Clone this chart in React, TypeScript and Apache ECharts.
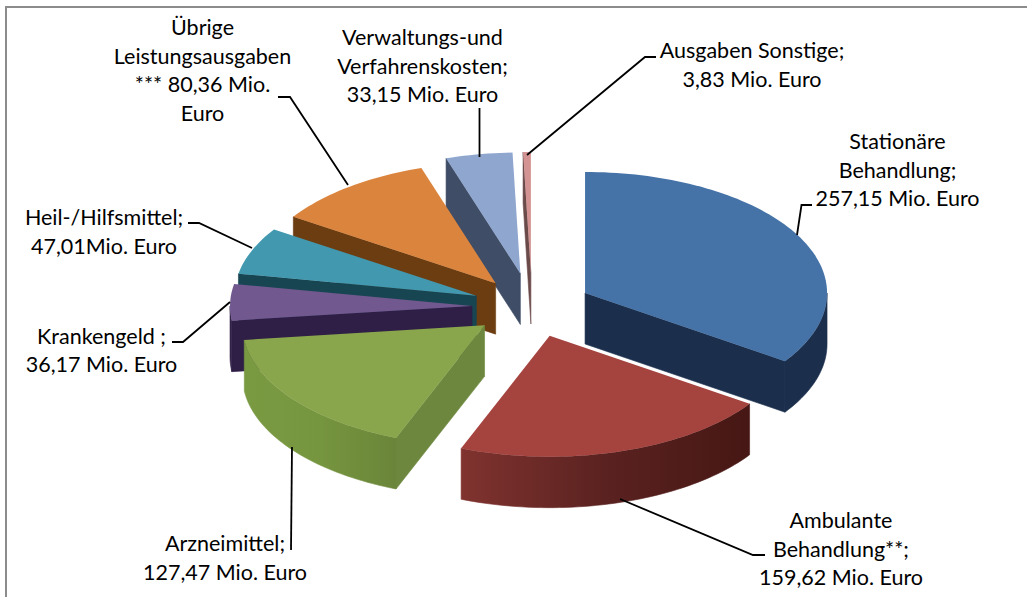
import React, { useEffect, useRef } from "react";
import * as echarts from "echarts";

const categories = [
  "Stationäre Behandlung",
  "Ambulante Behandlung**",
  "Arzneimittel",
  "Krankengeld",
  "Heil-/Hilfsmittel",
  "Übrige Leistungsausgaben ***",
  "Verwaltungs-und Verfahrenskosten",
  "Ausgaben Sonstige",
];
const values = [257.15, 159.62, 127.47, 36.17, 47.01, 80.36, 33.15, 3.83];
const topColors = ["#4572a7", "#a5433f", "#8aa64c", "#71588f", "#4198af", "#db843d", "#8fa6cf", "#d29392"];
const sideColors = ["#1b2f4d", "#7f3230", "#6d883e", "#2f1f46", "#174552", "#6c3d11", "#3f4d66", "#6b4a4a"];
const arcLight = ["#1b2f4d", "#80332f", "#7a9a42", "#2f1f46", "#174552", "#6c3d11", "#3f4d66", "#6b4a4a"];
const arcMid = ["#1b2f4d", "#5a2220", "#76953f", "#2f1f46", "#174552", "#6c3d11", "#3f4d66", "#6b4a4a"];
const arcDark = ["#1b2f4d", "#461714", "#6a8539", "#2f1f46", "#174552", "#6c3d11", "#3f4d66", "#6b4a4a"];
const explode = [60, 60, 60, 60, 60, 60, 68, 68];

const labels = [
  "Stationäre\nBehandlung;\n257,15 Mio. Euro",
  "Ambulante\nBehandlung**;\n159,62 Mio. Euro",
  "Arzneimittel;\n127,47 Mio. Euro",
  "Krankengeld ;\n36,17 Mio. Euro",
  "Heil-/Hilfsmittel;\n47,01Mio. Euro",
  "Übrige\nLeistungsausgaben\n*** 80,36 Mio.\nEuro",
  "Verwaltungs-und\nVerfahrenskosten;\n33,15 Mio. Euro",
  "Ausgaben Sonstige;\n3,83 Mio. Euro",
];
const labelAnchors = [
  [897.5, 169.5], [841, 548.5], [225, 557.5], [101.5, 350], [104, 231.5], [202.5, 70], [422.5, 65.5], [752, 64.5],
];
const leaders = [
  [[797, 235], [801.5, 205], [812, 205]],
  [[620, 499], [753, 555], [765, 555]],
  [[292, 447], [291, 550]],
  [[230, 302], [183, 342], [172, 342]],
  [[252, 248], [199, 223], [188, 223]],
  [[278, 97], [290, 97], [348, 185]],
  [[479.5, 108], [479.5, 157]],
  [[527, 155], [645, 57], [656, 57]],
];

const CX = 532;
const CY = 307;
const RX = 242;
const RY = 121;
const DEPTH = 51;
const FONT = "Lato";
const FONT_SIZE = 21.5;
const LINE_HEIGHT = 28.8;

const total = values.reduce((a, b) => a + b, 0);
const rad = (d: number) => (d * Math.PI) / 180;

function arcPoints(ax: number, ay: number, from: number, to: number, dy = 0) {
  const steps = Math.max(2, Math.ceil(Math.abs(to - from) / 1.5));
  const pts: number[][] = [];
  for (let i = 0; i <= steps; i++) {
    const a = rad(from + ((to - from) * i) / steps);
    pts.push([ax + RX * Math.sin(a), ay - RY * Math.cos(a) + dy]);
  }
  return pts;
}

function renderSlice(params: any, api: any) {
  const i = params.dataIndex;
  const share = (v: number) => (v / total) * 360;
  const start = values.slice(0, i).reduce((s, v) => s + share(v), 0);
  const end = start + share(api.value(0));
  const mid = rad((start + end) / 2);
  const ax = CX + explode[i] * Math.sin(mid);
  const ay = CY - 0.5 * explode[i] * Math.cos(mid);
  const z2 = values.length - i;
  const children: any[] = [];
  const radial = (angle: number) => {
    const a = rad(angle);
    const ex = ax + RX * Math.sin(a);
    const ey = ay - RY * Math.cos(a);
    children.push({
      type: "polygon",
      z2,
      shape: { points: [[ax, ay], [ex, ey], [ex, ey + DEPTH], [ax, ay + DEPTH]] },
      style: { fill: sideColors[i], stroke: sideColors[i], lineWidth: 0.6 },
    });
  };
  // only the walls that face the viewer are drawn
  if (Math.cos(rad(start - 90)) < 0) radial(start);
  if (Math.cos(rad(end + 90)) < 0) radial(end);
  const frontFrom = Math.max(start, 90);
  const frontTo = Math.min(end, 270);
  if (frontTo > frontFrom) {
    const upper = arcPoints(ax, ay, frontFrom, frontTo);
    const lower = arcPoints(ax, ay, frontFrom, frontTo, DEPTH).reverse();
    // the arc runs clockwise, so on the front of the pie larger angles lie to the left
    const gradient = () =>
      new echarts.graphic.LinearGradient(0, 0, 1, 0, [
        { offset: 0, color: arcLight[i] },
        { offset: 0.5, color: arcMid[i] },
        { offset: 1, color: arcDark[i] },
      ]);
    children.push({
      type: "polygon",
      z2,
      shape: { points: upper.concat(lower) },
      style: { fill: gradient(), stroke: gradient(), lineWidth: 0.6 },
    });
  }
  children.push({
    type: "polygon",
    z2,
    shape: { points: [[ax, ay], ...arcPoints(ax, ay, start, end)] },
    style: { fill: topColors[i] },
  });
  return { type: "group", children };
}

export default function App() {
  const ref = useRef<HTMLDivElement>(null);
  useEffect(() => {
    document.body.style.margin = "0";
    const chart = echarts.init(ref.current!, null, { renderer: "svg" });
    chart.setOption({
      animation: false,
      backgroundColor: "#ffffff",
      graphic: {
        elements: [
          { type: "line", z: 1, shape: { x1: 6, y1: 7, x2: 1027, y2: 7 }, style: { stroke: "#8c8c8c", lineWidth: 2 } },
          { type: "line", z: 1, shape: { x1: 6, y1: 6, x2: 6, y2: 597 }, style: { stroke: "#8c8c8c", lineWidth: 2 } },
          ...leaders.map((pts) => ({
            type: "polyline",
            z: 5,
            shape: { points: pts },
            style: { stroke: "#000000", lineWidth: 1.8, fill: "none" },
          })),
          ...labels.map((text, i) => ({
            type: "text",
            z: 6,
            x: labelAnchors[i][0],
            y: labelAnchors[i][1],
            style: {
              text,
              fill: "#000000",
              font: `${FONT_SIZE}px ${FONT}`,
              lineHeight: LINE_HEIGHT,
              align: "center",
              verticalAlign: "middle",
            },
          })),
        ],
      },
      series: [
        {
          type: "custom",
          name: "Ausgaben",
          coordinateSystem: "none",
          renderItem: renderSlice,
          data: categories.map((name, i) => ({ name, value: [values[i]] })),
          silent: true,
          z: 3,
        },
      ],
    });
    return () => chart.dispose();
  }, []);
  return <div ref={ref} style={{ position: "absolute", left: 0, top: 0, width: 1027, height: 597 }} />;
}
